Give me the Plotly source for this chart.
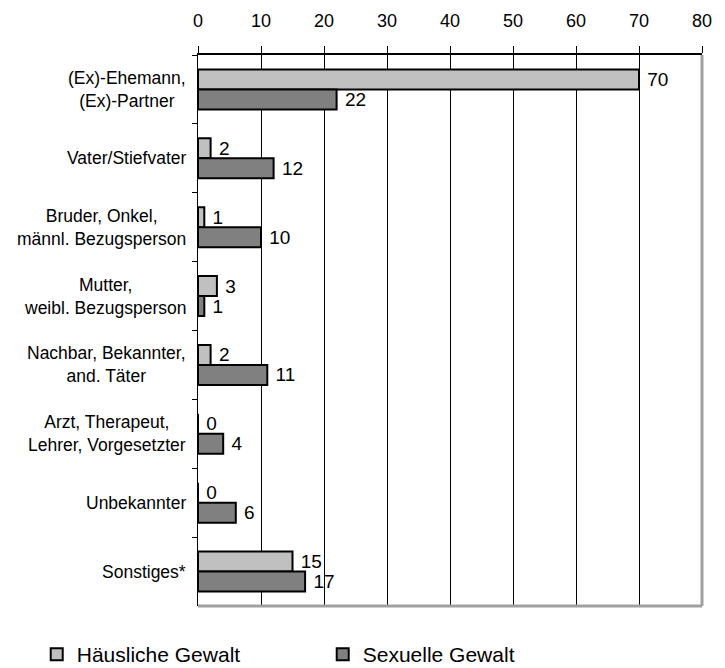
import plotly.graph_objects as go

categories = ["(Ex)-Ehemann,<br>(Ex)-Partner", "Vater/Stiefvater", "Bruder, Onkel,<br>männl. Bezugsperson",
              "Mutter,<br>weibl. Bezugsperson", "Nachbar, Bekannter,<br>and. Täter",
              "Arzt, Therapeut,<br>Lehrer, Vorgesetzter", "Unbekannter", "Sonstiges*"]
haeusliche = [70, 2, 1, 3, 2, 0, 0, 15]
sexuelle = [22, 12, 10, 1, 11, 4, 6, 17]
x_ticks = [0, 10, 20, 30, 40, 50, 60, 70, 80]

FONT = "Liberation Sans, Arial, sans-serif"

fig = go.Figure()
fig.add_trace(go.Bar(y=categories, x=haeusliche, orientation="h", name="Häusliche Gewalt",
                     marker=dict(color="#C0C0C0", line=dict(color="black", width=2)),
                     text=["\u00a0" + str(v) for v in haeusliche], textposition="outside",
                     cliponaxis=False, constraintext="none",
                     textfont=dict(size=19, color="black", family=FONT)))
fig.add_trace(go.Bar(y=categories, x=sexuelle, orientation="h", name="Sexuelle Gewalt",
                     marker=dict(color="#808080", line=dict(color="black", width=2)),
                     text=["\u00a0" + str(v) for v in sexuelle], textposition="outside",
                     cliponaxis=False, constraintext="none",
                     textfont=dict(size=19, color="black", family=FONT)))

for c in categories:
    fig.add_annotation(x=0, xref="paper", y=c, yref="y", text=c, showarrow=False,
                       xanchor="right", xshift=-10, align="center",
                       font=dict(size=17.5, color="black", family=FONT))

fig.update_layout(
    width=725, height=668,
    margin=dict(l=190, r=31, t=47, b=70, autoexpand=False),
    plot_bgcolor="white", paper_bgcolor="white",
    barmode="group", bargap=0.42, bargroupgap=0,
    font=dict(family=FONT, color="black", size=16),
    showlegend=True,
    legend=dict(orientation="h", x=-0.32, xanchor="left", y=-0.088, yanchor="middle",
                entrywidth=241, entrywidthmode="pixels", font=dict(size=21),
                traceorder="normal", itemsizing="constant"),
    xaxis=dict(side="top", range=[0, 80], tickvals=x_ticks, showgrid=True, gridcolor="black",
               gridwidth=1, showline=True, linecolor="black", linewidth=1.5, ticks="outside",
               ticklen=7, tickcolor="black", tickfont=dict(size=18), ticklabelstandoff=12,
               zeroline=False, mirror=False),
    yaxis=dict(autorange="reversed", showticklabels=False, ticks="outside", tickson="boundaries",
               ticklen=5, tickcolor="black", showline=True, linecolor="black", linewidth=1,
               showgrid=False),
)
fig.add_shape(type="line", xref="paper", yref="paper", x0=1, x1=1, y0=0, y1=1,
              line=dict(color="#A0A0A0", width=3))
fig.add_shape(type="line", xref="paper", yref="paper", x0=0, x1=1, y0=0, y1=0,
              line=dict(color="#A0A0A0", width=3))

fig.write_html("out.html")
